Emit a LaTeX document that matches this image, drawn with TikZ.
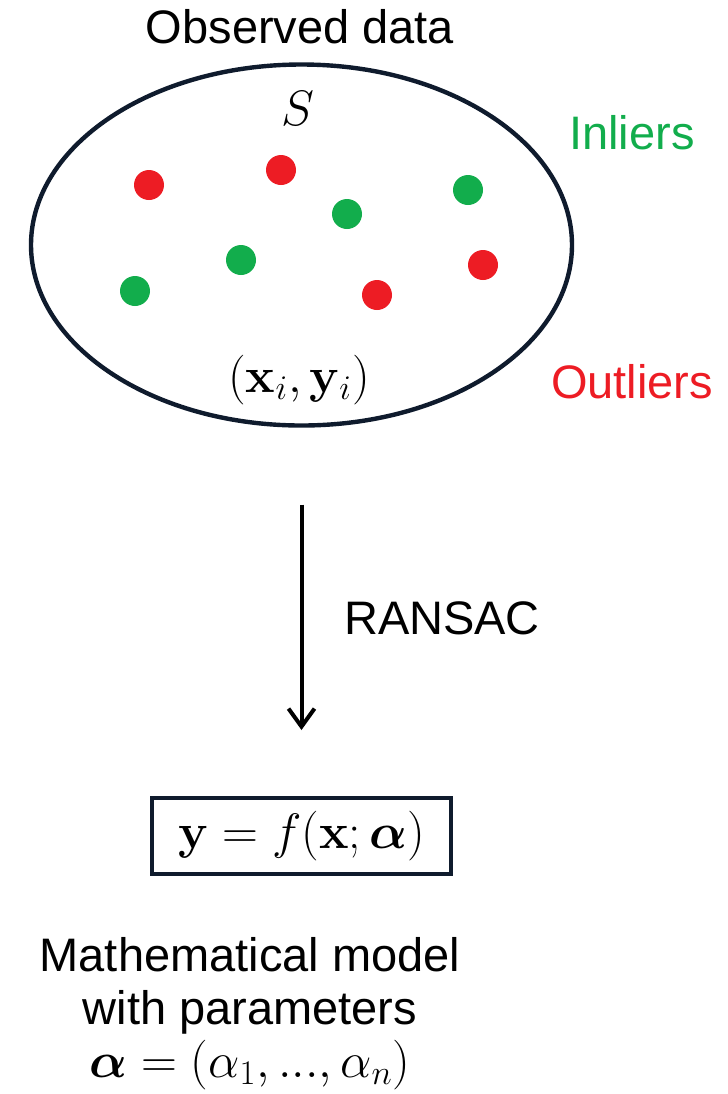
\documentclass[tikz,border=0pt]{standalone}
\usepackage{amsmath}
\usepackage[no-math]{fontspec}
\setmainfont{Liberation Sans}
\usetikzlibrary{arrows.meta,shapes.geometric}
\definecolor{dotred}{HTML}{ED1C24}
\definecolor{dotgreen}{HTML}{12AD4C}
\definecolor{edgenavy}{HTML}{0F1B2D}
\begin{document}
\begin{tikzpicture}[x=0.5pt,y=-0.5pt,
  every node/.style={font=\fontsize{23.5}{26.5}\selectfont, inner sep=0pt},
  >={Straight Barb[length=9pt,width=13pt]}]
\useasboundingbox (0,0) rectangle (728,1094);
\node[draw=edgenavy, line width=2.2pt, ellipse, minimum width=270.5pt, minimum height=180.5pt] (data) at (301.5,245) {};
\node (title) at (300,26.5) {Observed data};
\node (set) at (298,108) {$S$};
\node (pair) at (299,380) {$(\mathbf{x}_i,\mathbf{y}_i)$};
\node[text=dotgreen] (inl) at (632,133) {Inliers};
\node[text=dotred] (outl) at (632,382) {Outliers};
\foreach \x/\y in {149/185,281/170,377/295,483/265}
  \fill[dotred] (\x,\y) circle (15);
\foreach \x/\y in {347/214,468/190,241/260,135/291}
  \fill[dotgreen] (\x,\y) circle (15);
\node[draw=edgenavy, line width=2pt, minimum width=149.5pt, minimum height=38pt] (model) at (301.5,836) {$\mathbf{y}=f(\mathbf{x};\boldsymbol{\alpha})$};
\node[align=center, anchor=north] (desc) at (250,937) {Mathematical model\\with parameters\\$\boldsymbol{\alpha}=(\alpha_1,...,\alpha_n)$};
\draw[->, line width=2pt, shorten <=38.5pt, shorten >=33pt] (data.south) -- (model.north);
\node (algo) at (442,618) {RANSAC};
\end{tikzpicture}
\end{document}
